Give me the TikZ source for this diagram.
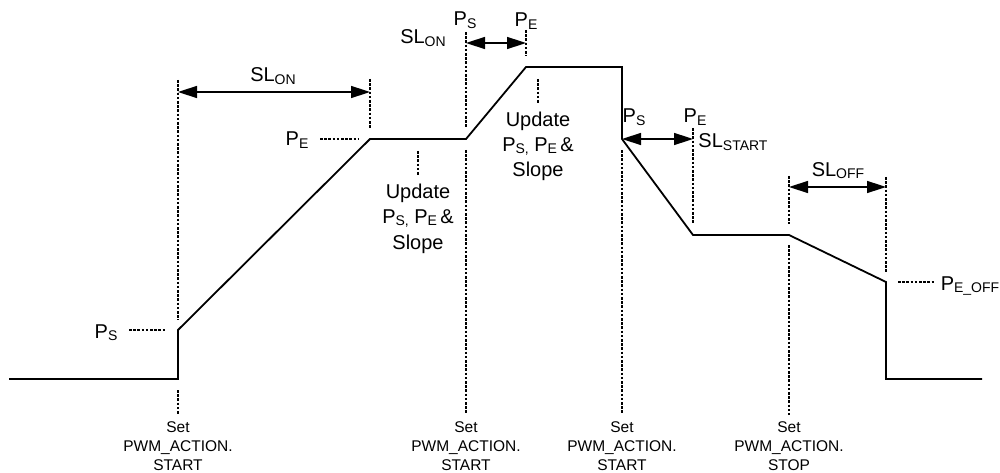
\documentclass[tikz,border=0pt]{standalone}
\usepackage{fontspec}
\setmainfont{Liberation Sans}
\usetikzlibrary{arrows.meta}
\tikzstyle{waveform} = [x = 1pt, y = -1pt]
\tikzstyle{signalLine} = [line width=1.8pt, line join=miter]
\tikzstyle{markerLine} = [line width=1.5pt, dash pattern=on 2.6pt off 1.6pt]
\tikzstyle{spanArrow} = [line width=1.5pt, {Triangle[length=19pt,width=12pt]}-{Triangle[length=19pt,width=12pt]}]
\tikzstyle{levelText} = [font=\fontsize{20}{25.5}\selectfont, inner sep=0, anchor=base, align=center]
\tikzstyle{actionText} = [font=\fontsize{15.5}{19}\selectfont, inner sep=0, anchor=base, align=center]
\newcommand{\lo}[1]{\raisebox{-0.12em}{\fontsize{14}{14}\selectfont #1}}
\newcommand{\markerV}[3]{\draw [markerLine] (#1,#2) -- (#1,#3);}
\newcommand{\markerH}[3]{\draw [markerLine] (#2,#1) -- (#3,#1);}
\newcommand{\actionLabel}[3]{\node [actionText] (#1) at (#2,470) {Set\\PWM\_ACTION.\\#3};}
\begin{document}
\begin{tikzpicture}[waveform]
\useasboundingbox (0,0) rectangle (1000,473);
% signal
\coordinate (w0) at (9,379);\coordinate (w1) at (178,379);\coordinate (w2) at (178,330);\coordinate (w3) at (370,139);
\coordinate (w4) at (466,139);\coordinate (w5) at (526,67);\coordinate (w6) at (622,67);\coordinate (w7) at (622,139);
\coordinate (w8) at (693,235);\coordinate (w9) at (789,235);\coordinate (w10) at (886,282);\coordinate (w11) at (886,379);
\coordinate (w12) at (982,379);
\draw [signalLine] (w0) -- (w1) -- (w2) -- (w3) -- (w4) -- (w5) -- (w6) -- (w7) -- (w8) -- (w9) -- (w10) -- (w11) -- (w12);
% dotted markers
\markerV{178}{80}{320}\markerV{178}{390}{415}\markerV{370}{79}{128}
\markerV{466}{32}{128}\markerV{466}{150}{414}\markerV{526}{30}{56}
\markerV{418}{151}{176}\markerV{538}{79}{104}
\markerV{622}{150}{414}\markerV{693}{128}{224}
\markerV{789}{176}{224}\markerV{789}{245}{415}\markerV{886}{177}{272}
\markerH{139}{320}{358}\markerH{330}{129}{166}\markerH{282}{898}{935}
% spans
\coordinate (onA) at (178,92);\coordinate (onB) at (370,92);
\coordinate (onC) at (466,43);\coordinate (onD) at (526,43);
\coordinate (startA) at (622,139);\coordinate (startB) at (693,139);
\coordinate (offA) at (789,187);\coordinate (offB) at (886,187);
\draw [spanArrow] (onA) -- (onB);
\draw [spanArrow] (onC) -- (onD);
\draw [spanArrow] (startA) -- (startB);
\draw [spanArrow] (offA) -- (offB);
% labels
\node [levelText] (slOnLong) at (273,82) {SL\lo{ON}};
\node [levelText] (slOnShort) at (423,44) {SL\lo{ON}};
\node [levelText] (psTop) at (465,26) {P\lo{S}};
\node [levelText] (peTop) at (526,27) {P\lo{E}};
\node [levelText] (peLeft) at (297,146) {P\lo{E}};
\node [levelText] (psLeft) at (106,338) {P\lo{S}};
\node [levelText] (peOff) at (970,290) {P\lo{E\_OFF}};
\node [levelText] (psRight) at (634,123) {P\lo{S}};
\node [levelText] (peRight) at (695,123) {P\lo{E}};
\node [levelText] (slStart) at (733,148) {SL\lo{START}};
\node [levelText] (slOff) at (838,176) {SL\lo{OFF}};
\node [levelText] (updateA) at (418,249) {Update\\P\lo{S,} P\lo{E}\,\&\\Slope};
\node [levelText] (updateB) at (538,177) {Update\\P\lo{S,} P\lo{E}\,\&\\Slope};
\actionLabel{setA}{178}{START}
\actionLabel{setB}{466}{START}
\actionLabel{setC}{622}{START}
\actionLabel{setD}{789}{STOP}
\end{tikzpicture}
\end{document}
